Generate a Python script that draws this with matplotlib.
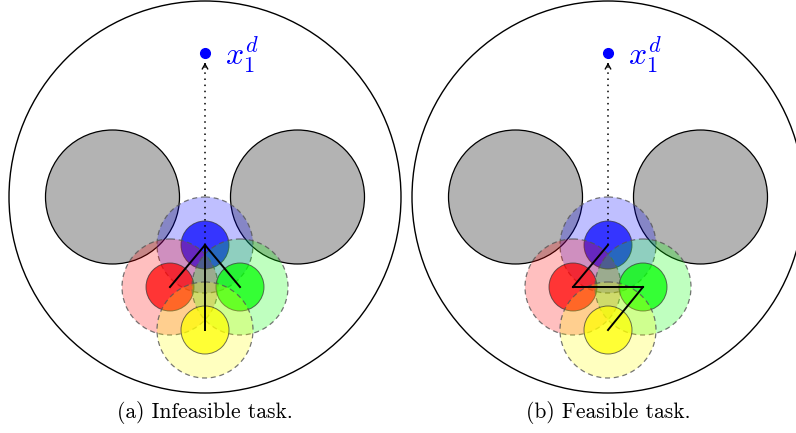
import matplotlib
matplotlib.use("Agg")
import matplotlib.pyplot as plt
from matplotlib.patches import Circle

plt.rcParams['mathtext.fontset'] = 'cm'

# scene geometry (pixel units, y measured downwards from the arena centre)
panel_cx = [205, 608]
panel_cy = 197
arena_r = 196
obstacle_dx = [-92.5, 92.5]
obstacle_r = 67

agent_colors = ['#0000ff', '#ff0000', '#00ff00', '#ffff00']
agent_dx = [0, -35, 35, 0]
agent_dy = [48, 90, 90, 133]
agent_r = 24
halo_r = 48

# links between agents: (a) star from blue, (b) chain
links = [
    [(0, 1), (0, 2), (0, 3)],
    [(0, 1), (1, 2), (2, 3)],
]
target_dy = -144
captions = ['(a) Infeasible task.', '(b) Feasible task.']

fig = plt.figure(figsize=(7.96, 4.33), dpi=100)
ax = fig.add_axes([0, 0, 1, 1])
ax.set_xlim(0, 796)
ax.set_ylim(433, 0)
ax.set_aspect('equal')
ax.axis('off')

for p, cx in enumerate(panel_cx):
    cy = panel_cy
    ax.add_patch(Circle((cx, cy), arena_r, facecolor='white', edgecolor='black', lw=1.0, zorder=1))
    for dx in obstacle_dx:
        ax.add_patch(Circle((cx + dx, cy), obstacle_r, facecolor='#b3b3b3', edgecolor='black', lw=0.9, zorder=2))

    for i, col in enumerate(agent_colors):
        x, y = cx + agent_dx[i], cy + agent_dy[i]
        ax.add_patch(Circle((x, y), halo_r, facecolor=col, alpha=0.25, edgecolor='none', zorder=3 + i))
        ax.add_patch(Circle((x, y), halo_r, facecolor='none', edgecolor='#555555', lw=0.9,
                            ls=(0, (4, 3)), alpha=0.8, zorder=3 + i))
        ax.add_patch(Circle((x, y), agent_r, facecolor=col, alpha=0.72, edgecolor='none', zorder=3 + i))
        ax.add_patch(Circle((x, y), agent_r, facecolor='none', edgecolor='#333333', lw=0.7,
                            alpha=0.7, zorder=3 + i))

    for a, b in links[p]:
        ax.plot([cx + agent_dx[a], cx + agent_dx[b]], [cy + agent_dy[a], cy + agent_dy[b]],
                color='black', lw=1.4, zorder=10)

    # dotted path to the goal
    tx, ty = cx + agent_dx[0], cy + target_dy
    ax.plot([tx, tx], [cy + agent_dy[0], ty + 12], color='black', lw=1.1,
            ls=(0, (1, 3)), zorder=11)
    ax.annotate('', xy=(tx, ty + 7), xytext=(tx, ty + 14),
                arrowprops=dict(arrowstyle='->,head_length=0.35,head_width=0.2', color='black', lw=1.0),
                zorder=11)
    ax.plot([tx], [ty], 'o', color='#0000ff', ms=7, zorder=12)
    ax.text(tx + 20, ty + 2, r'$x_1^d$', color='#0000ff', fontsize=23, va='center', ha='left', zorder=12)

    ax.text(cx, 413, captions[p], fontsize=15.5, family='cmr10', ha='center', va='center')

fig.savefig('out.png', dpi=100)
